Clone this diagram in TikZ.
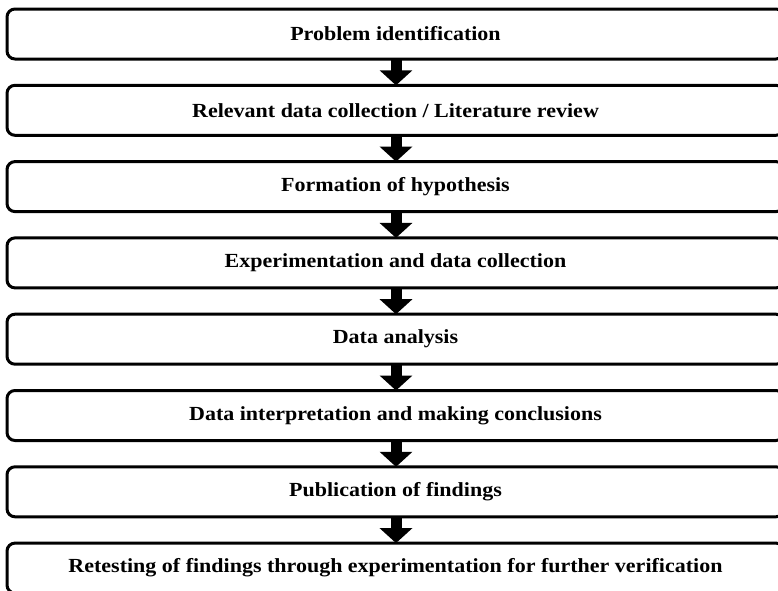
\documentclass[tikz,border=0pt]{standalone}
\usepackage{fontspec}
\usepackage{graphicx}
\setmainfont{Liberation Serif}
\usetikzlibrary{arrows.meta}
% step labels are set slightly widened
\newcommand\steplabel[1]{\scalebox{1.1}[1]{#1}}
\begin{document}
\begin{tikzpicture}[x=1pt,y=-1pt,
  stepbox/.style={draw=black, line width=3pt, rounded corners=8pt, fill=white,
    minimum width=777pt, minimum height=50pt, inner sep=0pt, outer sep=0pt,
    font=\fontsize{20}{22}\selectfont\bfseries, text=black},
  flowarrow/.style={line width=11pt, -{Triangle[width=32pt,length=15pt]}}]
\useasboundingbox (0,0) rectangle (778,590);
\clip (0,0) rectangle (778,590);
\fill[white] (0,0) rectangle (778,590);
\def\cx{395.5}
\node[stepbox] (b1) at (\cx, 34.0) {\steplabel{Problem identification}};
\node[stepbox] (b2) at (\cx, 110.3) {\steplabel{Relevant data collection / Literature review}};
\node[stepbox] (b3) at (\cx, 186.6) {\steplabel{Formation of hypothesis}};
\node[stepbox] (b4) at (\cx, 262.9) {\steplabel{Experimentation and data collection}};
\node[stepbox] (b5) at (\cx, 339.2) {\steplabel{Data analysis}};
\node[stepbox] (b6) at (\cx, 415.5) {\steplabel{Data interpretation and making conclusions}};
\node[stepbox] (b7) at (\cx, 491.8) {\steplabel{Publication of findings}};
\node[stepbox] (b8) at (\cx, 568.1) {\steplabel{Retesting of findings through experimentation for further verification}};
\foreach \a/\b in {b1/b2,b2/b3,b3/b4,b4/b5,b5/b6,b6/b7,b7/b8}
  \draw[flowarrow] ([xshift=0.5pt]\a.south) -- ([xshift=0.5pt]\b.north);
\end{tikzpicture}
\end{document}
